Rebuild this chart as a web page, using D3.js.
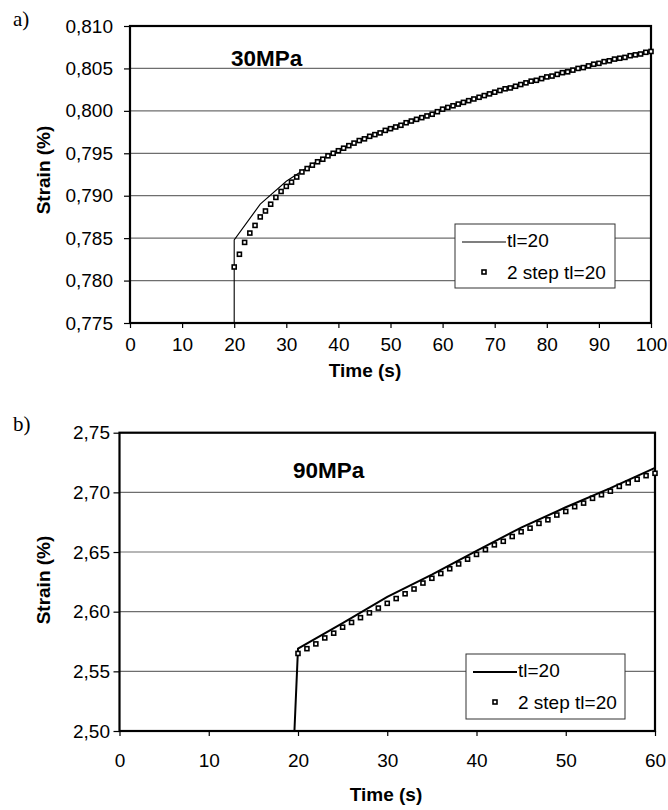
<!DOCTYPE html>
<html>
<head>
<meta charset="utf-8">
<script src="https://cdn.jsdelivr.net/npm/d3@7"></script>
<style>
  body { margin: 0; background: #fff; }
  svg text { font-family: "Liberation Sans", Arial, sans-serif; fill: #000; }
</style>
</head>
<body>
<div class="chartWrap"></div>
<script>
//Data - chart a) 30MPa
const markTimeA = [20,21,22,23,24,25,26,27,28,29,30,31,32,33,34,35,36,37,38,39,40,41,42,43,44,45,46,47,48,49,50,
  51,52,53,54,55,56,57,58,59,60,61,62,63,64,65,66,67,68,69,70,71,72,73,74,75,76,77,78,79,80,
  81,82,83,84,85,86,87,88,89,90,91,92,93,94,95,96,97,98,99,100];
const markStrainA = [0.7816,0.7831,0.7845,0.7856,0.7865,0.7875,0.7882,0.7890,0.7898,0.7905,0.7911,
  0.7916,0.7922,0.7928,0.7932,0.7936,0.7940,0.7943,0.7947,0.7950,0.7953,
  0.7956,0.7959,0.7962,0.7965,0.7967,0.7970,0.7972,0.7974,0.7977,0.7979,
  0.7981,0.7983,0.7986,0.7988,0.7990,0.7992,0.7994,0.7996,0.7999,0.8002,
  0.8004,0.8006,0.8008,0.8010,0.8012,0.8014,0.8016,0.8018,0.8020,0.8022,
  0.8024,0.8026,0.8027,0.8029,0.8031,0.8033,0.8035,0.8036,0.8038,0.8040,
  0.8041,0.8043,0.8045,0.8046,0.8048,0.8050,0.8051,0.8053,0.8055,0.8056,
  0.8058,0.8059,0.8061,0.8062,0.8063,0.8065,0.8066,0.8067,0.8069,0.8070];
const lineTimeA = [20,20,25,30,35,40,45,50,55,60,65,70,75,80,85,90,95,100];
const lineStrainA = [0.775,0.7848,0.7890,0.7917,0.7937,0.7954,0.7968,0.7980,0.7991,0.8002,0.8012,0.8022,0.8031,0.8040,0.8048,0.8056,0.8064,0.8070];
const xTicksA = [0,10,20,30,40,50,60,70,80,90,100];
const yTicksA = [0.775,0.780,0.785,0.790,0.795,0.800,0.805,0.810];

//Data - chart b) 90MPa
const markTimeB = [20,21,22,23,24,25,26,27,28,29,30,31,32,33,34,35,36,37,38,39,40,
  41,42,43,44,45,46,47,48,49,50,51,52,53,54,55,56,57,58,59,60];
const markStrainB = [2.565,2.569,2.573,2.578,2.582,2.587,2.591,2.595,2.599,2.603,2.607,
  2.611,2.615,2.619,2.624,2.628,2.632,2.636,2.640,2.644,2.648,
  2.652,2.656,2.659,2.663,2.667,2.670,2.674,2.677,2.681,2.684,
  2.688,2.691,2.695,2.698,2.701,2.705,2.708,2.711,2.714,2.716];
const lineTimeB = [19.6,20,25,30,35,40,45,50,55,60];
const lineStrainB = [2.50,2.569,2.5905,2.6125,2.631,2.651,2.6705,2.6875,2.7035,2.7205];
const xTicksB = [0,10,20,30,40,50,60];
const yTicksB = [2.50,2.55,2.60,2.65,2.70,2.75];

const seriesNames = ["tl=20", "2 step tl=20"];

let width = 668, height = 810;
let svg = d3.select(".chartWrap").append("svg").attr("width", width).attr("height", height);

//decimal comma like the original
let locale = d3.formatLocale({decimal: ",", thousands: ".", grouping: [3], currency: ["", ""]});

makeChart({
  x0: 130, x1: 651, y0: 323, y1: 26,
  xDomain: [0, 100], yDomain: [0.775, 0.810],
  xTicks: xTicksA, yTicks: yTicksA, yFmt: locale.format(".3f"),
  xPad: 9.5, yPad: 11,
  markT: markTimeA, markV: markStrainA, lineT: lineTimeA, lineV: lineStrainA, lineW: 1.1,
  panel: "a)", panelY: 26, title: "30MPa", titleX: 231, titleY: 66,
  xTitleX: 365, xTitleY: 377, yTitleY: 170,
  legend: {x: 455, y: 224, w: 160, h: 64}
});
makeChart({
  x0: 119.5, x1: 655, y0: 731, y1: 432.7,
  xDomain: [0, 60], yDomain: [2.50, 2.75],
  xTicks: xTicksB, yTicks: yTicksB, yFmt: locale.format(".2f"),
  xPad: 17.5, yPad: 3.5,
  markT: markTimeB, markV: markStrainB, lineT: lineTimeB, lineV: lineStrainB, lineW: 2,
  panel: "b)", panelY: 431, title: "90MPa", titleX: 293, titleY: 477.5,
  xTitleX: 386, xTitleY: 801, yTitleY: 580,
  legend: {x: 466, y: 654, w: 159, h: 65}
});

function makeChart(c) {
  let xScale = d3.scaleLinear().domain(c.xDomain).range([c.x0, c.x1]);
  let yScale = d3.scaleLinear().domain(c.yDomain).range([c.y0, c.y1]);
  let g = svg.append("g");

  //gridlines
  g.selectAll("line.grid").data(c.yTicks).enter().append("line")
    .attr("class", "grid")
    .attr("x1", c.x0).attr("x2", c.x1)
    .attr("y1", d => yScale(d)).attr("y2", d => yScale(d))
    .attr("stroke", "#6e6e6e").attr("stroke-width", 1.2);

  //axes (ticks + labels only, frame drawn below)
  let xAxis = d3.axisBottom(xScale).tickValues(c.xTicks).tickSize(5).tickPadding(c.xPad).tickFormat(d3.format("d"));
  let yAxis = d3.axisLeft(yScale).tickValues(c.yTicks).tickSize(6).tickPadding(c.yPad).tickFormat(c.yFmt);
  let gx = g.append("g").attr("transform", "translate(0," + c.y0 + ")").call(xAxis);
  let gy = g.append("g").attr("transform", "translate(" + c.x0 + ",0)").call(yAxis);
  [gx, gy].forEach(a => {
    a.select(".domain").remove();
    a.selectAll(".tick line").attr("stroke", "#000").attr("stroke-width", 1.2);
    a.selectAll(".tick text").attr("font-size", 19).attr("fill", "#000")
      .style("font-family", "'Liberation Sans', Arial, sans-serif");
  });

  //frame
  g.append("rect").attr("x", c.x0).attr("y", c.y1)
    .attr("width", c.x1 - c.x0).attr("height", c.y0 - c.y1)
    .attr("fill", "none").attr("stroke", "#000").attr("stroke-width", 2.2);

  //series 1: line
  let line = d3.line().x(d => xScale(d[0])).y(d => yScale(d[1]));
  g.append("path").datum(d3.zip(c.lineT, c.lineV))
    .attr("d", line).attr("fill", "none").attr("stroke", "#000").attr("stroke-width", c.lineW);

  //series 2: hollow squares
  g.selectAll("rect.mark").data(d3.zip(c.markT, c.markV)).enter().append("rect")
    .attr("class", "mark")
    .attr("x", d => xScale(d[0]) - 2).attr("y", d => yScale(d[1]) - 2)
    .attr("width", 4).attr("height", 4)
    .attr("fill", "#fff").attr("stroke", "#000").attr("stroke-width", 1.6);

  //titles
  g.append("text").text(c.panel).attr("x", 13).attr("y", c.panelY)
    .attr("font-size", 21).style("font-family", "'Liberation Serif', 'Times New Roman', serif");
  g.append("text").text(c.title).attr("x", c.titleX).attr("y", c.titleY)
    .attr("font-size", 22.5).attr("font-weight", "bold");
  g.append("text").text("Time (s)").attr("x", c.xTitleX).attr("y", c.xTitleY)
    .attr("text-anchor", "middle").attr("font-size", 19).attr("font-weight", "bold");
  g.append("text").text("Strain (%)")
    .attr("transform", "translate(50," + c.yTitleY + ") rotate(-90)")
    .attr("text-anchor", "middle").attr("font-size", 19).attr("font-weight", "bold");

  //legend
  let L = c.legend;
  let lg = g.append("g").attr("transform", "translate(" + L.x + "," + L.y + ")");
  lg.append("rect").attr("width", L.w).attr("height", L.h)
    .attr("fill", "#fff").attr("stroke", "#333").attr("stroke-width", 1);
  lg.append("line").attr("x1", 7).attr("x2", 51).attr("y1", 18).attr("y2", 18)
    .attr("stroke", "#000").attr("stroke-width", c.lineW);
  lg.append("text").text(seriesNames[0]).attr("x", 52).attr("y", 23).attr("font-size", 19);
  lg.append("rect").attr("x", 27).attr("y", 46).attr("width", 4).attr("height", 4)
    .attr("fill", "#fff").attr("stroke", "#000").attr("stroke-width", 1.6);
  lg.append("text").text(seriesNames[1]).attr("x", 52).attr("y", 54.5).attr("font-size", 19);
}
</script>
</body>
</html>
